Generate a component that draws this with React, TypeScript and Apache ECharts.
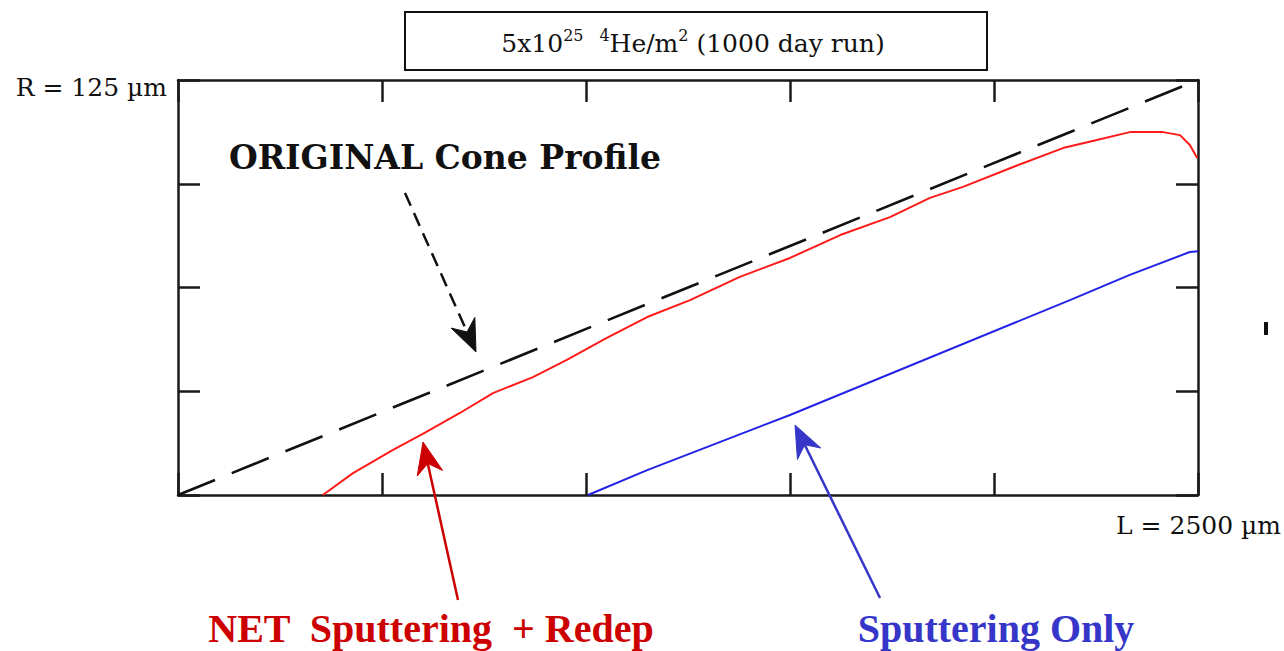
import React, { useEffect, useRef } from "react";
import * as echarts from "echarts";

// Axis extents (µm)
const L_MAX = 2500;
const R_MAX = 125;
const L_TICK = 500;
const R_TICK = 31.25;

// ORIGINAL cone profile (straight cone R = 125 * L / 2500)
const ORIGINAL_L = [0, 2500];
const ORIGINAL_R = [0, 125];

// NET sputtering + redeposition profile
const NET_L = [355, 429, 527, 600, 691, 772, 870, 953, 1051, 1150, 1255, 1377, 1500, 1623, 1745, 1843, 1924, 2047, 2169, 2252, 2333, 2414, 2456, 2480, 2498];
const NET_R = [0, 6.6, 13.6, 18.4, 24.7, 30.7, 35.5, 40.7, 47.3, 53.6, 58.7, 65.7, 71.4, 78.3, 83.7, 89.5, 92.8, 98.8, 104.5, 106.9, 109.3, 109.3, 108.4, 105.4, 101.5];

// Sputtering only profile
const SPUT_L = [1005, 1150, 1500, 2186, 2333, 2480, 2500];
const SPUT_R = [0, 7.5, 24.1, 58.7, 66.3, 73.2, 73.4];

const zip = (a: number[], b: number[]) => a.map((v, i) => [v, b[i]]);

function arrowHead(tx: number, ty: number, hx: number, hy: number, len: number, half: number, notch: number) {
  const dx = hx - tx;
  const dy = hy - ty;
  const d = Math.sqrt(dx * dx + dy * dy);
  const ux = dx / d;
  const uy = dy / d;
  const px = -uy;
  const py = ux;
  const bx = hx - ux * len;
  const by = hy - uy * len;
  return [
    [hx, hy],
    [bx + px * half, by + py * half],
    [hx - ux * (len - notch), hy - uy * (len - notch)],
    [bx - px * half, by - py * half],
  ];
}

function arrow(tx: number, ty: number, hx: number, hy: number, color: string, dashed: boolean) {
  const len = 32;
  const dx = hx - tx;
  const dy = hy - ty;
  const d = Math.sqrt(dx * dx + dy * dy);
  const ex = hx - (dx / d) * (len - 10);
  const ey = hy - (dy / d) * (len - 10);
  return [
    {
      type: "line",
      shape: { x1: tx, y1: ty, x2: ex, y2: ey },
      style: { stroke: color, lineWidth: 2.5, lineDash: dashed ? [14, 8] : null },
      z: 100,
    },
    {
      type: "polygon",
      shape: { points: arrowHead(tx, ty, hx, hy, len, 13, 10) },
      style: { fill: color, stroke: color, lineWidth: 1 },
      z: 101,
    },
  ];
}

const SERIF = "'DejaVu Serif', serif";
const BOTTOM = "'Liberation Serif', 'Times New Roman', serif";

export default function App() {
  const ref = useRef<HTMLDivElement>(null);
  useEffect(() => {
    if (!ref.current) return;
    const chart = echarts.init(ref.current, null, { renderer: "svg" });
    const axisLine = { show: true, onZero: false, lineStyle: { color: "#1a1a1a", width: 2.5 } };
    const axisTick = { show: true, inside: true, length: 22, lineStyle: { color: "#1a1a1a", width: 2.5 } };
    const xAxisBase = {
      type: "value",
      min: 0,
      max: L_MAX,
      interval: L_TICK,
      axisLine,
      axisTick,
      axisLabel: { show: false },
      splitLine: { show: false },
    };
    const yAxisBase = {
      type: "value",
      min: 0,
      max: R_MAX,
      interval: R_TICK,
      axisLine,
      axisTick,
      axisLabel: { show: false },
      splitLine: { show: false },
    };
    chart.setOption({
      animation: false,
      backgroundColor: "#ffffff",
      grid: { left: 178, top: 80, right: 86, bottom: 156, containLabel: false },
      xAxis: [
        { ...xAxisBase, position: "bottom" },
        { ...xAxisBase, position: "top" },
      ],
      yAxis: [
        { ...yAxisBase, position: "left" },
        { ...yAxisBase, position: "right" },
      ],
      series: [
        {
          name: "ORIGINAL Cone Profile",
          type: "line",
          data: zip(ORIGINAL_L, ORIGINAL_R),
          showSymbol: false,
          lineStyle: { color: "#111111", width: 2.6, type: [40, 18] },
          z: 3,
        },
        {
          name: "NET Sputtering + Redep",
          type: "line",
          data: zip(NET_L, NET_R),
          showSymbol: false,
          lineStyle: { color: "#ff1a1a", width: 2 },
          z: 4,
        },
        {
          name: "Sputtering Only",
          type: "line",
          data: zip(SPUT_L, SPUT_R),
          showSymbol: false,
          lineStyle: { color: "#2323e6", width: 2 },
          z: 4,
        },
      ],
      graphic: [
        {
          type: "rect",
          shape: { x: 405, y: 12, width: 582, height: 58 },
          style: { fill: "#ffffff", stroke: "#111111", lineWidth: 2 },
        },
        {
          type: "text",
          x: 693,
          y: 43,
          style: {
            text: "{n|5x10}{s|25}{n|  }{s|4}{n|He/m}{s|2}{n| (1000 day run)}",
            align: "center",
            verticalAlign: "middle",
            rich: {
              n: { fontFamily: SERIF, fontSize: 25, lineHeight: 32, fill: "#111" },
              s: { fontFamily: SERIF, fontSize: 16, lineHeight: 18, verticalAlign: "top", fill: "#111" },
            },
          },
        },
        {
          type: "text",
          x: 167,
          y: 87,
          style: { text: "R = 125 µm", align: "right", verticalAlign: "middle", font: `25px ${SERIF}`, fill: "#111" },
        },
        {
          type: "text",
          x: 1281,
          y: 525,
          style: { text: "L = 2500 µm", align: "right", verticalAlign: "middle", font: `25px ${SERIF}`, fill: "#111" },
        },
        {
          type: "text",
          x: 445,
          y: 157,
          style: { text: "ORIGINAL Cone Profile", align: "center", verticalAlign: "middle", font: `bold 33px ${SERIF}`, fill: "#111" },
        },
        {
          type: "text",
          x: 431,
          y: 628,
          style: { text: "NET  Sputtering  + Redep", align: "center", verticalAlign: "middle", font: `bold 40px ${BOTTOM}`, fill: "#cc0000" },
        },
        {
          type: "text",
          x: 996,
          y: 628,
          style: { text: "Sputtering Only", align: "center", verticalAlign: "middle", font: `bold 40px ${BOTTOM}`, fill: "#3636c8" },
        },
        {
          type: "rect",
          shape: { x: 1264, y: 322, width: 4, height: 13 },
          style: { fill: "#111" },
        },
        ...arrow(405, 193, 476, 352, "#111111", true),
        ...arrow(458, 600, 423, 442, "#cc0000", false),
        ...arrow(880, 598, 795, 425, "#3636c8", false),
      ],
    });
    return () => chart.dispose();
  }, []);
  return <div ref={ref} style={{ position: "fixed", left: 0, top: 0, width: 1284, height: 651 }} />;
}
